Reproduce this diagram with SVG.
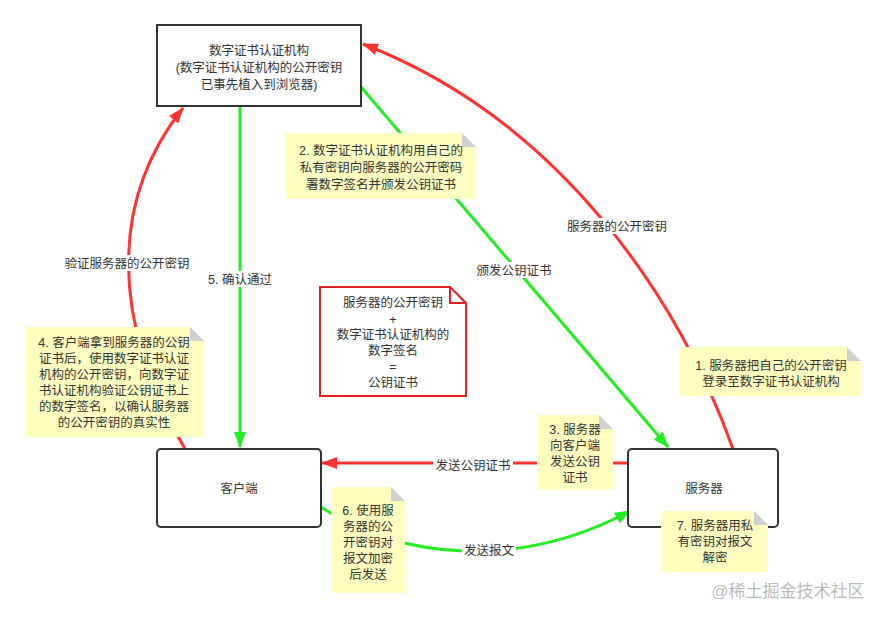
<svg xmlns="http://www.w3.org/2000/svg" width="886" height="620" viewBox="0 0 886 620">
<style>
text{font-family:"Liberation Sans","Noto Sans CJK SC",sans-serif;font-size:12.5px;fill:#333;text-anchor:middle}
.box{fill:#fff;stroke:#333;stroke-width:2}
.note{fill:#ffffc0}
.fold{fill:#d0d0d0}
.r{fill:none;stroke:#ff3333;stroke-width:3}
.g{fill:none;stroke:#22ee22;stroke-width:3}
.lbl{fill:#fff}
</style>
<defs>
<marker id="ar" viewBox="0 0 16 12" refX="15" refY="6" markerWidth="16" markerHeight="12" orient="auto" markerUnits="userSpaceOnUse"><path d="M0,0 L16,6 L0,12 z" fill="#ff3333"/></marker>
<marker id="ag" viewBox="0 0 16 12" refX="15" refY="6" markerWidth="16" markerHeight="12" orient="auto" markerUnits="userSpaceOnUse"><path d="M0,0 L16,6 L0,12 z" fill="#22ee22"/></marker>
</defs>
<rect width="886" height="620" fill="#fff"/>
<g id="connectors">
<path class="r" d="M733,449 C680,300 560,120 363,44" marker-end="url(#ar)"/>
<path class="g" d="M361,87 L668,447" marker-end="url(#ag)"/>
<path class="g" d="M240,106 L240,447" marker-end="url(#ag)"/>
<path class="r" d="M185,449 C110,320 110,200 183,108" marker-end="url(#ar)"/>
<path class="r" d="M628,463 L322,463" marker-end="url(#ar)"/>
<path class="g" d="M321,507 C400,560 520,570 630,511" marker-end="url(#ag)"/>
<rect class="lbl" x="563" y="218" width="108" height="16"/><text x="617" y="231">服务器的公开密钥</text>
<rect class="lbl" x="474" y="262" width="80" height="16"/><text x="514" y="275">颁发公钥证书</text>
<rect class="lbl" x="203" y="271" width="72" height="16"/><text x="240" y="284">5. 确认通过</text>
<rect class="lbl" x="61" y="255" width="132" height="16"/><text x="127" y="268">验证服务器的公开密钥</text>
<rect class="lbl" x="433" y="457" width="80" height="16"/><text x="473" y="470">发送公钥证书</text>
<rect class="lbl" x="462" y="542" width="54" height="16"/><text x="489" y="555">发送报文</text>
</g>
<g id="ca"><rect class="box" x="157" y="25" width="204" height="81"/>
<text x="259" y="55">数字证书认证机构</text><text x="259" y="72">(数字证书认证机构的公开密钥</text><text x="259" y="89">已事先植入到浏览器)</text></g>
<g id="client"><rect class="box" x="157" y="449" width="164" height="78" rx="4"/><text x="239" y="493">客户端</text></g>
<g id="server"><rect class="box" x="628" y="449" width="150" height="78" rx="4"/><text x="704" y="493">服务器</text></g>
<g id="cert"><path d="M320,287 H450 L466,303 V396 H320 Z" fill="#fff" stroke="#dd2222" stroke-width="2"/><path d="M450,287 V303 H466" fill="none" stroke="#dd2222" stroke-width="2"/>
<text x="393" y="307">服务器的公开密钥</text><text x="393" y="324">+</text><text x="393" y="339">数字证书认证机构的</text><text x="393" y="355">数字签名</text><text x="393" y="371">=</text><text x="393" y="387">公钥证书</text></g>
<g id="note2"><path class="note" d="M285,133 H462 L476,147 V199 H285 Z"/><path class="fold" d="M462,133 L476,147 H462 Z"/>
<text x="381" y="155">2. 数字证书认证机构用自己的</text><text x="381" y="172">私有密钥向服务器的公开密码</text><text x="381" y="189">署数字签名并颁发公钥证书</text></g>
<g id="note1"><path class="note" d="M680,347 H847 L861,361 V396 H680 Z"/><path class="fold" d="M847,347 L861,361 H847 Z"/>
<text x="771" y="370">1. 服务器把自己的公开密钥</text><text x="771" y="386">登录至数字证书认证机构</text></g>
<g id="note4"><path class="note" d="M25,327 H190 L204,341 V437 H25 Z"/><path class="fold" d="M190,327 L204,341 H190 Z"/>
<text x="114" y="347">4. 客户端拿到服务器的公钥</text><text x="114" y="363">证书后，使用数字证书认证</text><text x="114" y="379">机构的公开密钥，向数字证</text><text x="114" y="395">书认证机构验证公钥证书上</text><text x="114" y="411">的数字签名，以确认服务器</text><text x="114" y="427">的公开密钥的真实性</text></g>
<g id="note3"><path class="note" d="M537,415 H599 L613,429 V490 H537 Z"/><path class="fold" d="M599,415 L613,429 H599 Z"/>
<text x="575" y="434">3. 服务器</text><text x="575" y="450">向客户端</text><text x="575" y="466">发送公钥</text><text x="575" y="482">证书</text></g>
<g id="note6"><path class="note" d="M331,487 H391 L405,501 V593 H331 Z"/><path class="fold" d="M391,487 L405,501 H391 Z"/>
<text x="368" y="515">6. 使用服</text><text x="368" y="531">务器的公</text><text x="368" y="547">开密钥对</text><text x="368" y="563">报文加密</text><text x="368" y="579">后发送</text></g>
<g id="note7"><path class="note" d="M661,511 H754 L768,525 V572 H661 Z"/><path class="fold" d="M754,511 L768,525 H754 Z"/>
<text x="715" y="530">7. 服务器用私</text><text x="715" y="546">有密钥对报文</text><text x="715" y="562">解密</text></g>
<text x="788" y="597" style="font-size:17px;fill:#bbb">@稀土掘金技术社区</text>
</svg>
